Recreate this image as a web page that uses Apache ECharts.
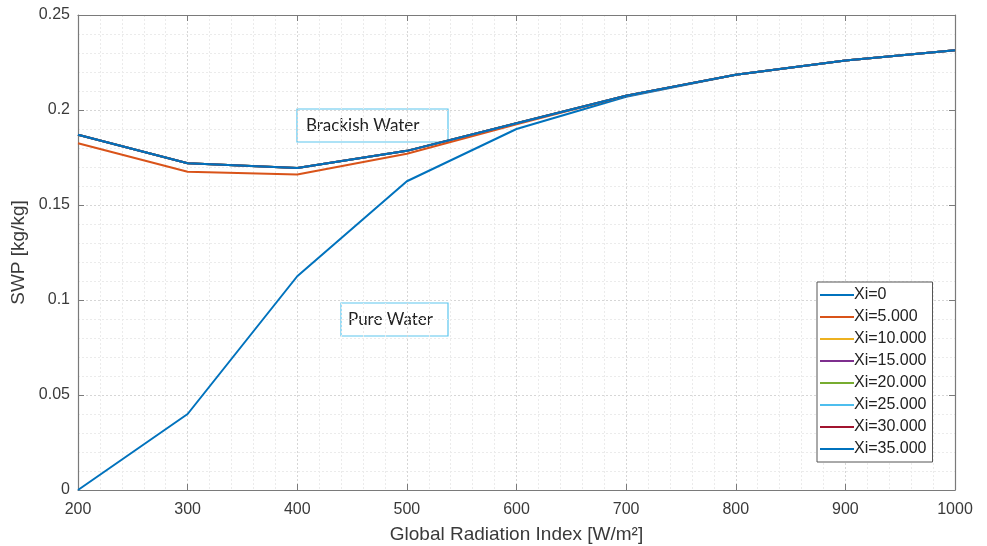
<!DOCTYPE html>
<html>
<head>
<meta charset="utf-8">
<script src="https://cdn.jsdelivr.net/npm/echarts@6/dist/echarts.min.js"></script>
<style>
  html, body { margin: 0; padding: 0; background: #fff; }
  #chart { width: 987px; height: 546px; }
</style>
</head>
<body>
<div id="chart"></div>
<script>
// Global radiation index [W/m²]
const radiation = [200, 300, 400, 500, 600, 700, 800, 900, 1000];

// SWP [kg/kg] for each salinity level Xi
const seriesNames = ['Xi=0', 'Xi=5.000', 'Xi=10.000', 'Xi=15.000', 'Xi=20.000', 'Xi=25.000', 'Xi=30.000', 'Xi=35.000'];
const swpXi0  = [0.000, 0.040, 0.1125, 0.1625, 0.190, 0.2070, 0.2185, 0.2260, 0.2315];
const swpXi5  = [0.1825, 0.1675, 0.1660, 0.1770, 0.1925, 0.2075, 0.2185, 0.2260, 0.2315];
const swpXi10 = [0.1870, 0.1720, 0.1695, 0.1785, 0.1930, 0.2075, 0.2185, 0.2260, 0.2315];
const swpXi15 = [0.1870, 0.1720, 0.1695, 0.1785, 0.1930, 0.2075, 0.2185, 0.2260, 0.2315];
const swpXi20 = [0.1870, 0.1720, 0.1695, 0.1785, 0.1930, 0.2075, 0.2185, 0.2260, 0.2315];
const swpXi25 = [0.1870, 0.1720, 0.1695, 0.1785, 0.1930, 0.2075, 0.2185, 0.2260, 0.2315];
const swpXi30 = [0.1870, 0.1720, 0.1695, 0.1785, 0.1930, 0.2075, 0.2185, 0.2260, 0.2315];
const swpXi35 = [0.1870, 0.1720, 0.1695, 0.1785, 0.1930, 0.2075, 0.2185, 0.2260, 0.2315];
const allSwp = [swpXi0, swpXi5, swpXi10, swpXi15, swpXi20, swpXi25, swpXi30, swpXi35];

const lineColors = ['#0072BD', '#D95319', '#EDB120', '#7E2F8E', '#77AC30', '#4DBEEE', '#A2142F', '#0072BD'];

const axisGray = '#7a7a7a';
const textGray = '#3a3a3a';
const fontFamily = '"Liberation Sans", Arial, sans-serif';

const chart = echarts.init(document.getElementById('chart'), null, { renderer: 'canvas' });

const series = seriesNames.map((name, i) => ({
  name: name,
  type: 'line',
  xAxisIndex: 0,
  yAxisIndex: 0,
  symbol: 'none',
  data: radiation.map((x, j) => [x, allSwp[i][j]]),
  lineStyle: { color: lineColors[i], width: 2 },
  itemStyle: { color: lineColors[i] },
  z: 3 + i
}));

const gridLines = {
  splitLine: { show: true, lineStyle: { color: '#d6d6d6', type: [2, 2], width: 1 } },
  minorTick: { show: false, splitNumber: 5 },
  minorSplitLine: { show: true, lineStyle: { color: '#ebebeb', type: [2, 2], width: 1 } }
};

const option = {
  animation: false,
  backgroundColor: '#ffffff',
  grid: { left: 78, right: 32, top: 15, bottom: 56, containLabel: false, outerBoundsMode: 'none' },
  xAxis: [
    Object.assign({
      type: 'value', min: 200, max: 1000, interval: 100, position: 'bottom',
      name: 'Global Radiation Index [W/m²]', nameLocation: 'middle', nameGap: 35,
      nameTextStyle: { fontFamily, fontSize: 19, color: textGray },
      axisLine: { show: true, lineStyle: { color: axisGray, width: 1.2 } },
      axisTick: { show: true, inside: true, length: 6, lineStyle: { color: axisGray } },
      axisLabel: { fontFamily, fontSize: 16, color: textGray, margin: 12, formatter: v => String(v) }
    }, gridLines),
    {
      type: 'value', min: 200, max: 1000, interval: 100, position: 'top',
      axisLine: { show: true, onZero: false, lineStyle: { color: axisGray, width: 1.2 } },
      axisTick: { show: true, inside: true, length: 6, lineStyle: { color: axisGray } },
      axisLabel: { show: false },
      splitLine: { show: false }
    }
  ],
  yAxis: [
    Object.assign({
      type: 'value', min: 0, max: 0.25, interval: 0.05, position: 'left',
      name: 'SWP [kg/kg]', nameLocation: 'middle', nameGap: 50, nameRotate: 90,
      nameTextStyle: { fontFamily, fontSize: 19, color: textGray },
      axisLine: { show: true, lineStyle: { color: axisGray, width: 1.2 } },
      axisTick: { show: true, inside: true, length: 6, lineStyle: { color: axisGray } },
      axisLabel: {
        fontFamily, fontSize: 16, color: textGray, margin: 8,
        formatter: v => String(parseFloat(v.toFixed(2)))
      }
    }, gridLines),
    {
      type: 'value', min: 0, max: 0.25, interval: 0.05, position: 'right',
      axisLine: { show: true, onZero: false, lineStyle: { color: axisGray, width: 1.2 } },
      axisTick: { show: true, inside: true, length: 6, lineStyle: { color: axisGray } },
      axisLabel: { show: false },
      splitLine: { show: false }
    }
  ],
  legend: {
    data: seriesNames,
    orient: 'vertical',
    left: 817, top: 282,
    padding: [5, 6, 5, 3],
    itemGap: 6,
    itemWidth: 34,
    itemHeight: 2,
    icon: 'rect',
    backgroundColor: '#ffffff',
    borderColor: '#555555',
    borderWidth: 1,
    textStyle: { fontFamily, fontSize: 16, lineHeight: 16, color: '#222222', padding: [0, 0, 0, -5] }
  },
  series: series,
  graphic: [
    {
      type: 'group', x: 297, y: 109, z: 20,
      children: [
        { type: 'rect', shape: { x: 0, y: 0, width: 151, height: 33 },
          style: { fill: 'none', stroke: '#5cc6ee', lineWidth: 1.2 } },
        { type: 'text', x: 9, y: 17,
          style: { text: 'Brackish Water', fill: '#222222', font: '17px Lato, sans-serif', textVerticalAlign: 'middle' } }
      ]
    },
    {
      type: 'group', x: 341, y: 303, z: 20,
      children: [
        { type: 'rect', shape: { x: 0, y: 0, width: 107, height: 33 },
          style: { fill: 'none', stroke: '#5cc6ee', lineWidth: 1.2 } },
        { type: 'text', x: 7, y: 17,
          style: { text: 'Pure Water', fill: '#222222', font: '17px Lato, sans-serif', textVerticalAlign: 'middle' } }
      ]
    }
  ]
};

chart.setOption(option);
</script>
</body>
</html>
